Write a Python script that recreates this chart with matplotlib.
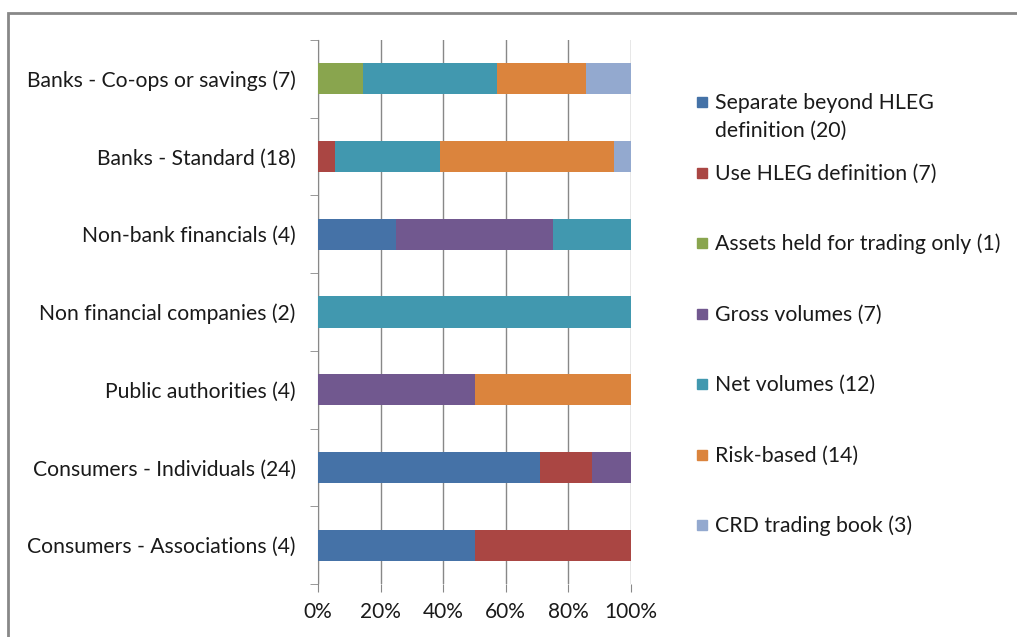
import numpy as np
import matplotlib
matplotlib.use("Agg")
import matplotlib.pyplot as plt
from matplotlib.patches import Rectangle
from matplotlib.ticker import PercentFormatter

plt.rcParams['font.family'] = ['Lato', 'DejaVu Sans']

categories = ["Banks - Co-ops or savings (7)", "Banks - Standard (18)",
              "Non-bank financials (4)", "Non financial companies (2)",
              "Public authorities (4)", "Consumers - Individuals (24)",
              "Consumers - Associations (4)"]

# counts per category (same order as categories)
separate = [0, 0, 1, 0, 0, 17, 2]
use_hleg = [0, 1, 0, 0, 0, 4, 2]
trading_only = [1, 0, 0, 0, 0, 0, 0]
gross = [0, 0, 2, 0, 2, 3, 0]
net = [3, 6, 1, 2, 0, 0, 0]
risk = [2, 10, 0, 0, 2, 0, 0]
crd = [1, 1, 0, 0, 0, 0, 0]

series_labels = ["Separate beyond HLEG\ndefinition (20)", "Use HLEG definition (7)",
                 "Assets held for trading only (1)", "Gross volumes (7)",
                 "Net volumes (12)", "Risk-based (14)", "CRD trading book (3)"]
colors = ["#4572A7", "#AA4643", "#89A54E", "#71588F", "#4198AF", "#DB843D", "#93A9CF"]

series = np.array([separate, use_hleg, trading_only, gross, net, risk, crd], dtype=float)
totals = series.sum(axis=0)
shares = series / totals

fig = plt.figure(figsize=(10.17, 6.37), dpi=100)
W, H = 1017, 637
ax = fig.add_axes([318 / W, 1 - 584 / H, (631 - 318) / W, (584 - 40) / H])

y = np.arange(len(categories))
left = np.zeros(len(categories))
for s, c in zip(shares, colors):
    ax.barh(y, s, left=left, height=0.4, color=c, zorder=3)
    left += s

ax.set_xlim(0, 1)
ax.set_ylim(len(categories) - 0.5, -0.5)
ax.set_xticks(np.linspace(0, 1, 6))
ax.xaxis.set_major_formatter(PercentFormatter(1.0, decimals=0))
ax.set_yticks(y)
ax.set_yticklabels(categories)
ax.set_yticks(np.arange(-0.5, len(categories)), minor=True)
ax.tick_params(axis='y', which='major', length=0, pad=16, labelsize=15.2, colors='#1a1a1a')
ax.tick_params(axis='y', which='minor', length=6, color='#888888')
ax.tick_params(axis='x', length=6, color='#888888', labelsize=15, colors='#1a1a1a', pad=7)
ax.grid(axis='x', color='#888888', linewidth=1, zorder=0)
for side in ['top', 'right', 'bottom']:
    ax.spines[side].set_visible(False)
ax.spines['left'].set_color('#888888')

# legend
leg_y = [102, 173, 243, 314, 384, 455, 525]
for lab, c, ly in zip(series_labels, colors, leg_y):
    fig.patches.append(Rectangle((697 / W, 1 - (ly + 5) / H), 10 / W, 10 / H,
                                 transform=fig.transFigure, color=c))
    for i, line in enumerate(lab.split("\n")):
        fig.text(715 / W, 1 - (ly + 1 + 28 * i) / H, line, fontsize=15.3, va='center',
                 ha='left', color='#1a1a1a')

# outer frame
fig.patches.append(Rectangle((8 / W, -0.1), 1.2, 1 - 13 / H + 0.1, transform=fig.transFigure,
                             fill=False, edgecolor='#888888', linewidth=2))

fig.savefig("out.png", dpi=100)
